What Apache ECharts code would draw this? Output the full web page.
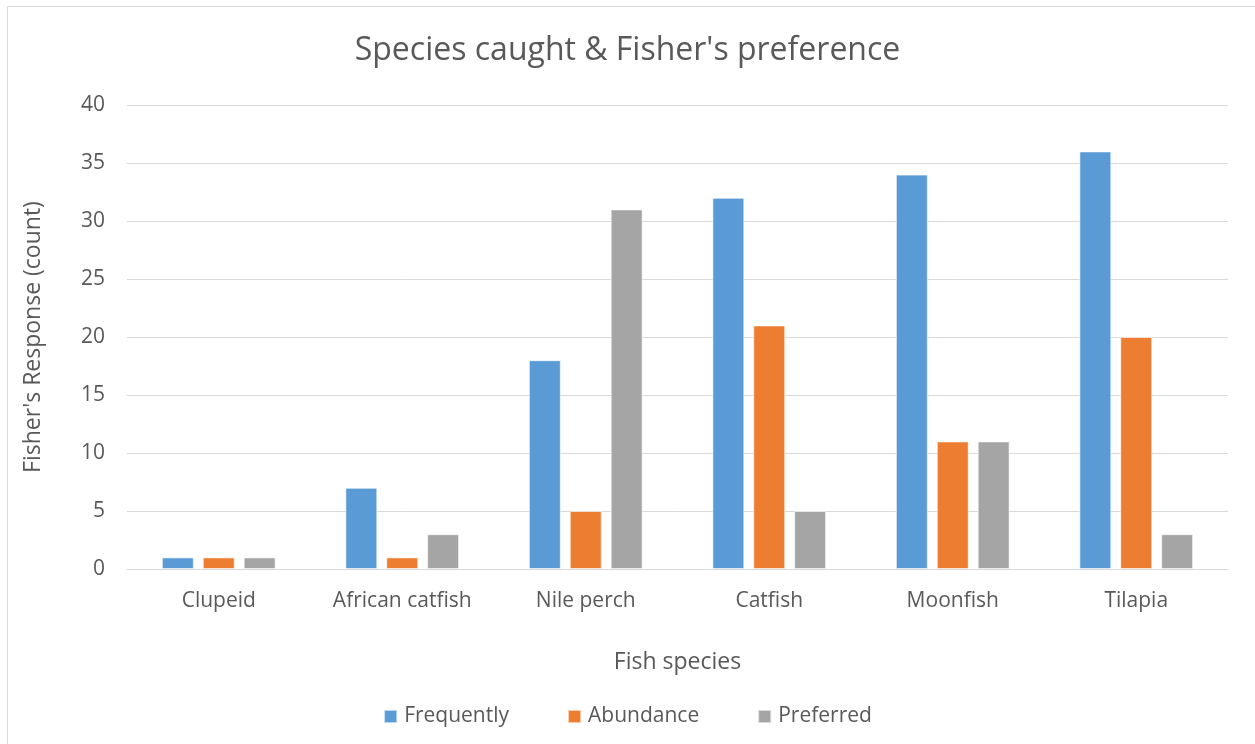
<!DOCTYPE html>
<html>
<head>
<meta charset="utf-8">
<script src="https://cdn.jsdelivr.net/npm/echarts@6/dist/echarts.min.js"></script>
<style>
  html, body { margin: 0; padding: 0; background: #fff; }
  #chart { width: 1255px; height: 744px; }
</style>
</head>
<body>
<div id="chart"></div>
<script>
// Fish species surveyed
const categories = ['Clupeid', 'African catfish', 'Nile perch', 'Catfish', 'Moonfish', 'Tilapia'];
// Fisher responses (count) per species
const frequently = [1, 7, 18, 32, 34, 36];
const abundance = [1, 1, 5, 21, 11, 20];
const preferred = [1, 3, 31, 5, 11, 3];

const textColor = '#595959';
const fontFamily = '"Open Sans", "Noto Sans", sans-serif';

const chart = echarts.init(document.getElementById('chart'));

function barSeries(name, data, color) {
  return {
    name: name,
    type: 'bar',
    data: data,
    barGap: '28%',
    barCategoryGap: '38%',
    itemStyle: { color: color, borderColor: 'rgba(255,255,255,0.6)', borderWidth: 1 }
  };
}

chart.setOption({
  backgroundColor: '#fff',
  textStyle: { fontFamily: fontFamily, color: textColor },
  title: {
    text: "Species caught & Fisher's preference",
    left: 'center',
    top: 30,
    textStyle: { fontFamily: fontFamily, fontSize: 32, fontWeight: 'normal', color: textColor }
  },
  graphic: [{
    type: 'rect',
    shape: { x: 7.5, y: 6.5, width: 1270, height: 760 },
    style: { fill: 'none', stroke: '#D9D9D9', lineWidth: 1 },
    silent: true
  }],
  legend: {
    bottom: 12,
    left: 'center',
    itemWidth: 13,
    itemHeight: 13,
    itemGap: 58,
    icon: 'rect',
    textStyle: { fontFamily: fontFamily, fontSize: 21, color: textColor, padding: [0, 0, 0, 2] }
  },
  grid: { left: 127, right: 27, top: 105, bottom: 175 },
  xAxis: {
    type: 'category',
    data: categories,
    name: 'Fish species',
    nameLocation: 'middle',
    nameGap: 82,
    nameTextStyle: { fontFamily: fontFamily, fontSize: 23, color: textColor },
    axisLine: { lineStyle: { color: '#D9D9D9', width: 1 } },
    axisTick: { show: false },
    axisLabel: { fontFamily: fontFamily, fontSize: 21, color: textColor, margin: 22 }
  },
  yAxis: {
    type: 'value',
    min: 0,
    max: 40,
    interval: 5,
    name: "Fisher's Response (count)",
    nameLocation: 'middle',
    nameGap: 82,
    nameTextStyle: { fontFamily: fontFamily, fontSize: 23, color: textColor },
    axisLine: { show: false },
    axisTick: { show: false },
    axisLabel: { fontFamily: fontFamily, fontSize: 21, color: textColor, margin: 22 },
    splitLine: { lineStyle: { color: '#D9D9D9', width: 1 } }
  },
  series: [
    barSeries('Frequently', frequently, '#5B9BD5'),
    barSeries('Abundance', abundance, '#ED7D31'),
    barSeries('Preferred', preferred, '#A5A5A5')
  ]
});
</script>
</body>
</html>
